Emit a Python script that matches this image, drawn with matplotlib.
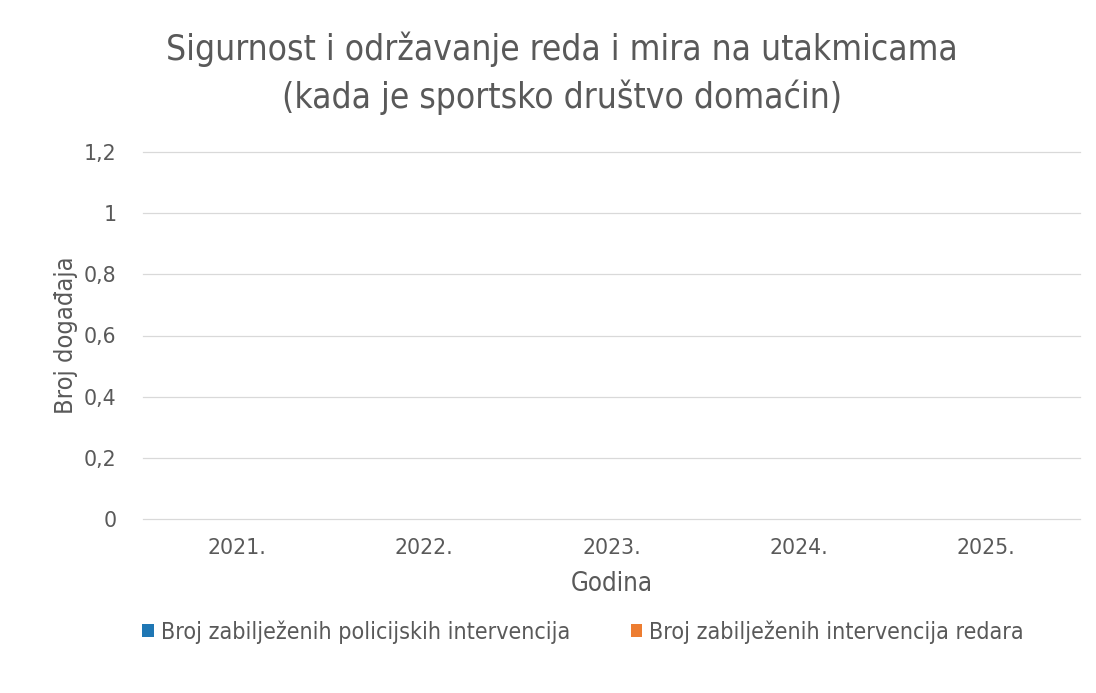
import matplotlib.pyplot as plt
import numpy as np

years = ["2021.", "2022.", "2023.", "2024.", "2025."]
policija = [0, 0, 0, 0, 0]
redari = [0, 0, 0, 0, 0]
y_ticks = [0, 0.2, 0.4, 0.6, 0.8, 1.0, 1.2]
y_labels = ["0", "0,2", "0,4", "0,6", "0,8", "1", "1,2"]

plt.rcParams['font.family'] = ['DejaVu Sans']

txt = '#595959'
fig = plt.figure(figsize=(10.96, 6.93), dpi=100)
ax = fig.add_axes([143 / 1096, 1 - 519 / 693, 937 / 1096, 367 / 693])

x = np.arange(len(years))
w = 0.35
ax.bar(x - w / 2, policija, w, color='#1f77b4', linewidth=0,
       label='Broj zabilježenih policijskih intervencija')
ax.bar(x + w / 2, redari, w, color='#ed7d31', linewidth=0,
       label='Broj zabilježenih intervencija redara')

ax.set_ylim(0, 1.2)
ax.set_xlim(-0.5, len(years) - 0.5)
ax.set_yticks(y_ticks)
ax.set_yticklabels(y_labels)
ax.set_xticks(x)
ax.set_xticklabels(years)
ax.tick_params(axis='both', length=0, labelsize=14.8, colors=txt)
ax.tick_params(axis='x', pad=14)
ax.tick_params(axis='y', pad=19)
ax.grid(axis='y', color='#d9d9d9', linewidth=0.9)
for gl in ax.get_ygridlines():
    gl.set_clip_on(False)
ax.set_axisbelow(True)
for s in ax.spines.values():
    s.set_visible(False)

ax.set_ylabel('Broj događaja', fontsize=18.3, color=txt, fontstretch='condensed', labelpad=4)
ax.set_xlabel('Godina', fontsize=18.5, color=txt, fontstretch='condensed', labelpad=9)
fig.suptitle('Sigurnost i održavanje reda i mira na utakmicama\n(kada je sportsko društvo domaćin)',
             fontsize=25.3, color=txt, y=0.955, x=0.513, linespacing=1.45,
             fontstretch='condensed')

leg = fig.legend(loc='center', bbox_to_anchor=(0.532, 1 - 632 / 693), ncol=2, frameon=False,
                 prop={'size': 16.7, 'stretch': 'condensed'},
                 handlelength=0.5, handleheight=0.5, handletextpad=0.3, columnspacing=2.6)
for t in leg.get_texts():
    t.set_color(txt)

fig.savefig('out.png', dpi=100)
